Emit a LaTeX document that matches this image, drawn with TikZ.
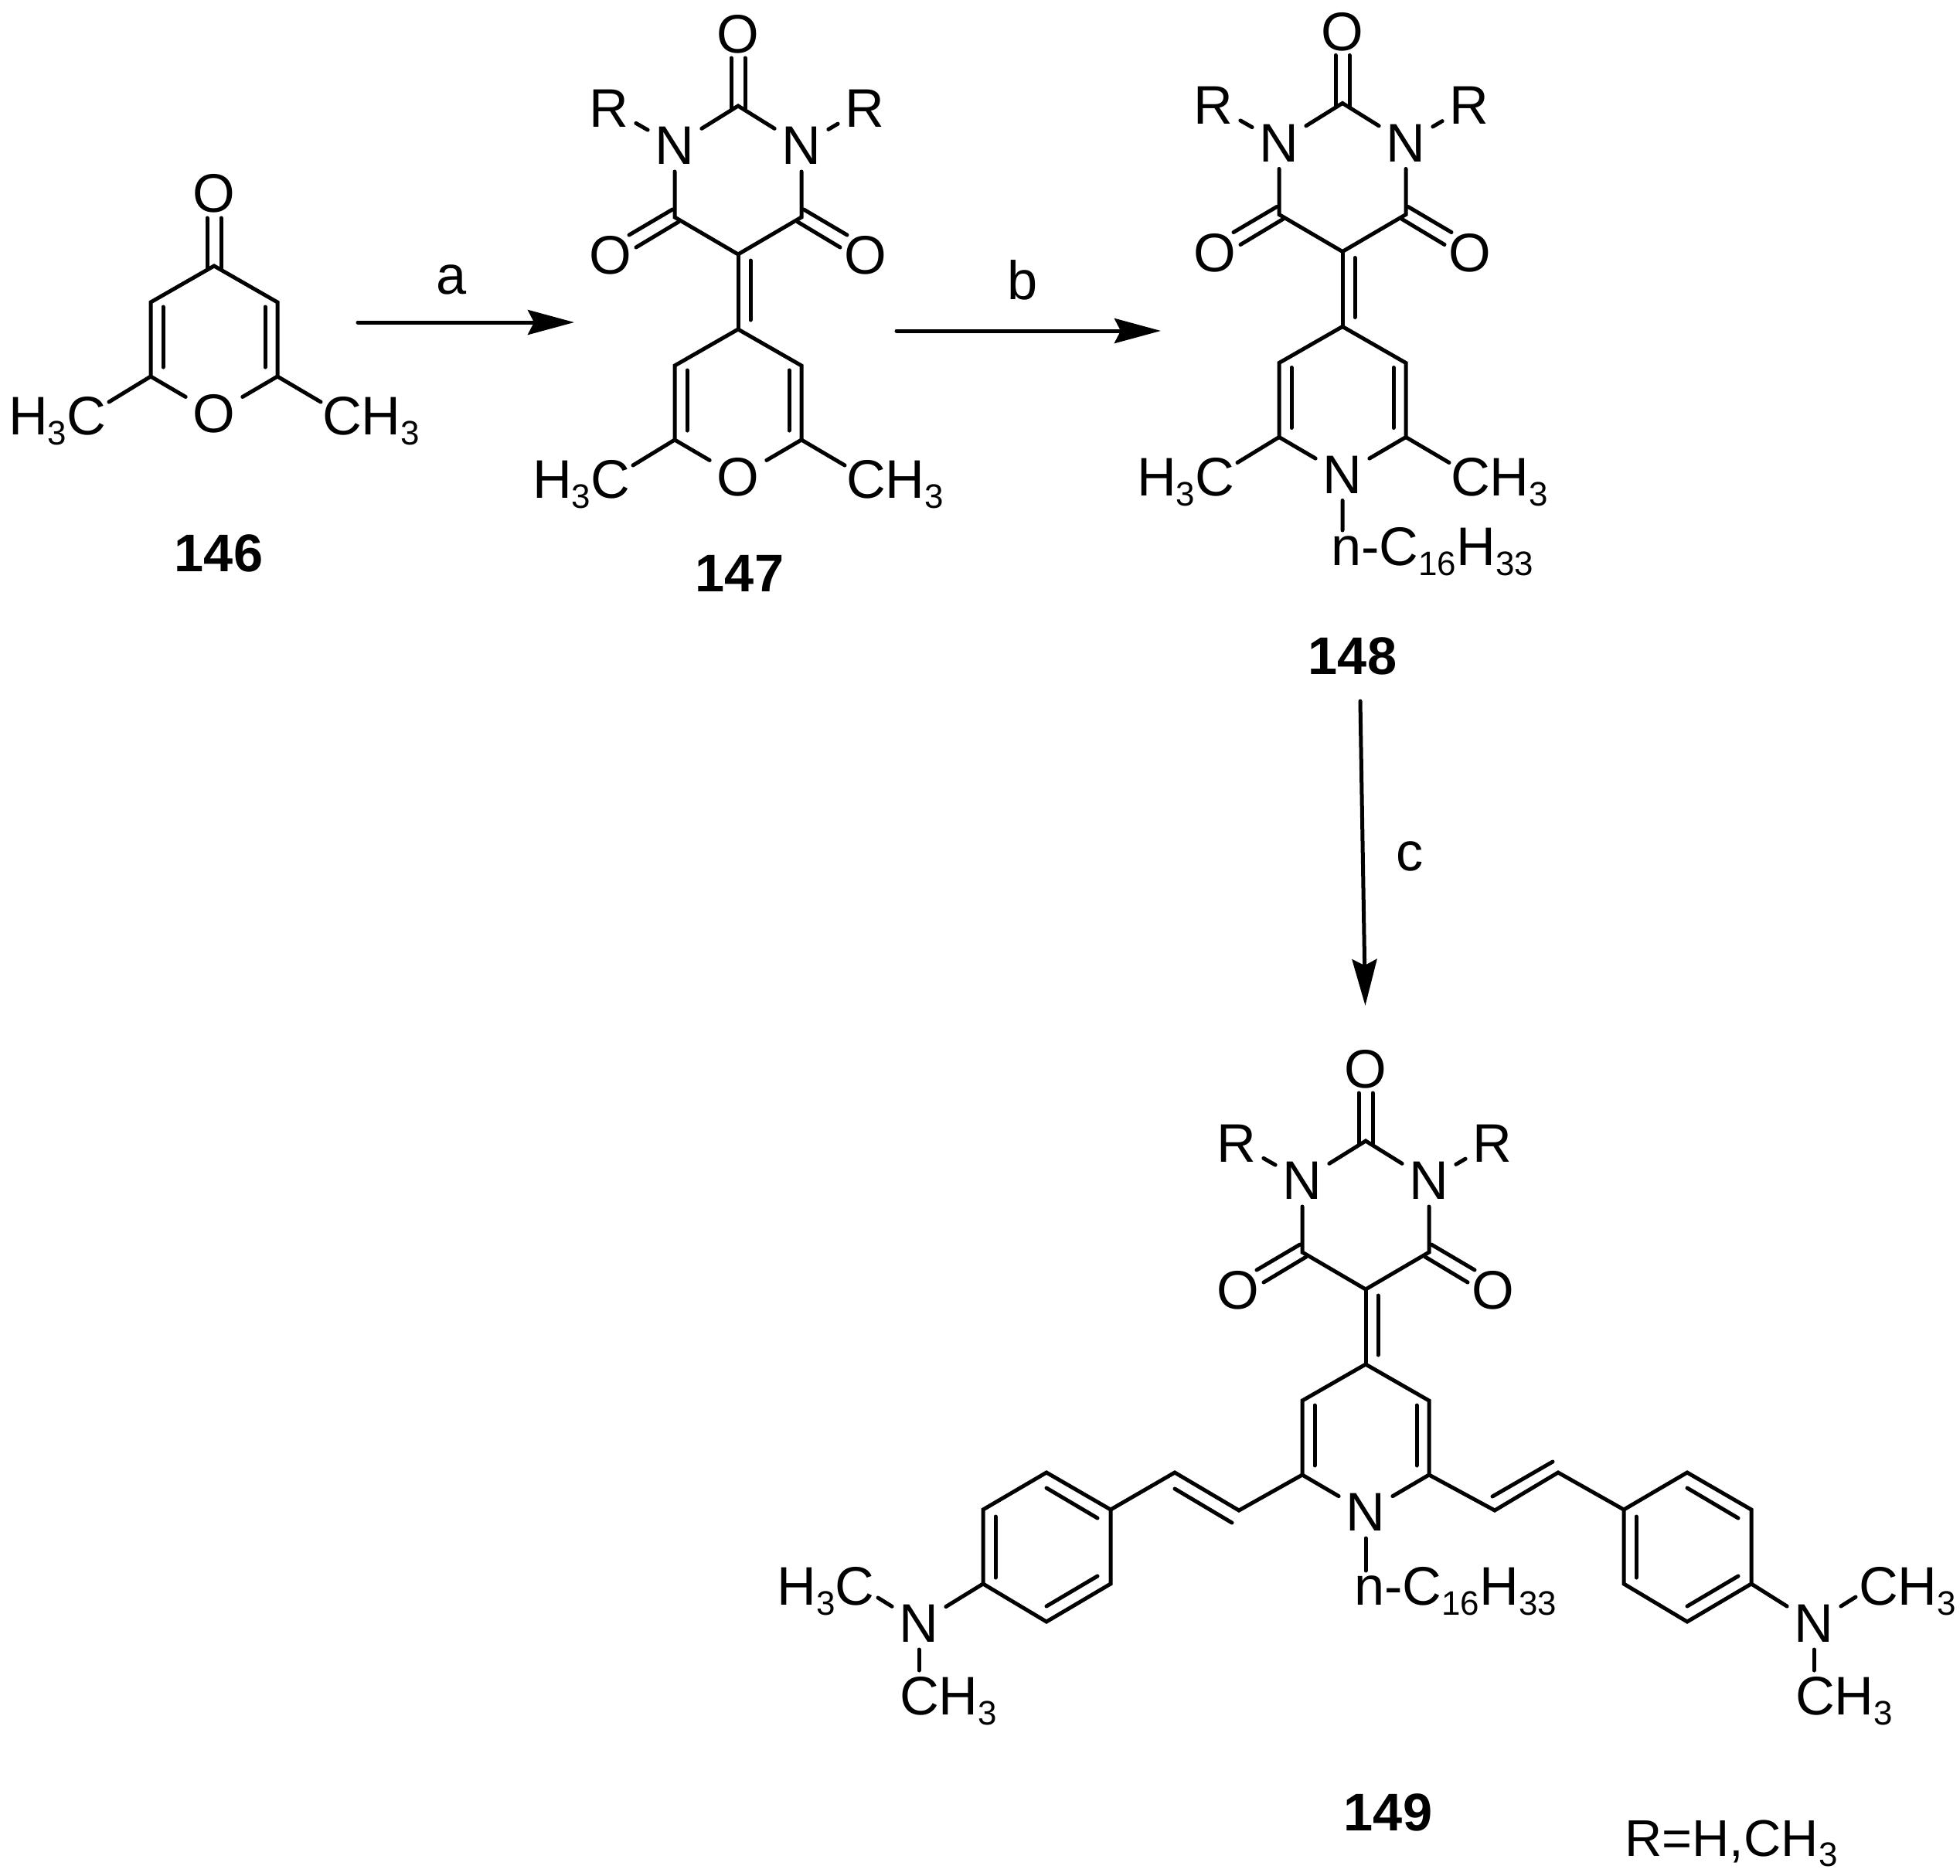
\documentclass[tikz,border=0pt]{standalone}
\usepackage{fontspec}
\setmainfont{Liberation Sans}
\usetikzlibrary{arrows.meta}
\newcommand{\dn}[1]{\raisebox{-.19em}{\fontsize{12.5}{14}\selectfont #1}}
\tikzset{
  atom/.style={inner sep=.07cm,text height=.49cm,text depth=0pt},
  cmpd/.style={font=\fontsize{19.5}{20}\selectfont\bfseries}
}
\begin{document}
\begin{tikzpicture}[x=1cm,y=-1cm,line width=.05cm,line cap=round,
  every node/.style={font=\fontsize{20}{22}\selectfont},
  >={Stealth[length=.6cm,width=.32cm,inset=.08cm]}]
\useasboundingbox (0,0) rectangle (25.36,24.27);
\foreach \m/\dx/\dy/\het in {k/-6.78/-.82/O,a/0/0/O,b/7.82/-.035/N,c/8.12/13.39/N}
{
\begin{scope}[shift={(\dx,\dy)}]
  \coordinate (\m c4) at (9.55,4.26);
  \coordinate (\m c3l) at (8.73,4.73);
  \coordinate (\m c2l) at (8.73,5.69);
  \coordinate (\m c2r) at (10.37,5.69);
  \coordinate (\m c3r) at (10.37,4.73);
  \node[atom] (\m het) at (9.55,6.17) {\het};
  \draw (\m het)--(\m c2l)--(\m c3l)--(\m c4)--(\m c3r)--(\m c2r)--(\m het);
  \draw (8.89,4.79)--(8.89,5.57);
  \draw (10.21,4.79)--(10.21,5.57);
\end{scope}
}
\foreach \m/\dx/\dy in {k/-6.78/-.82,a/0/0,b/7.82/-.035}
{
\begin{scope}[shift={(\dx,\dy)}]
  \node[atom] (\m me1) at (7.52,6.20) {H\dn{3}C};
  \node[atom] (\m me2) at (11.58,6.20) {CH\dn{3}};
  \coordinate (\m e1) at (8.19,6.02);
  \coordinate (\m e2) at (10.93,6.02);
  \draw (\m c2l)--(\m e1);
  \draw (\m c2r)--(\m e2);
\end{scope}
}
\foreach \m/\dx/\dy in {a/0/0,b/7.82/-.035,c/8.12/13.39}
{
\begin{scope}[shift={(\dx,\dy)}]
  \coordinate (\m c2) at (9.55,1.37);
  \coordinate (\m c6) at (8.73,2.81);
  \coordinate (\m c8) at (10.37,2.81);
  \coordinate (\m c5) at (9.55,3.29);
  \node[atom] (\m n1) at (8.73,1.88) {N};
  \node[atom] (\m n3) at (10.37,1.88) {N};
  \node[atom] (\m r1) at (7.88,1.395) {R};
  \node[atom] (\m r3) at (11.19,1.395) {R};
  \node[atom] (\m o2) at (9.55,.44) {O};
  \node[atom] (\m o4) at (7.90,3.30) {O};
  \node[atom] (\m o6) at (11.20,3.30) {O};
  \draw (\m r1)--(\m n1)--(\m c2)--(\m n3)--(\m r3);
  \draw (\m n1)--(\m c6)--(\m c5)--(\m c8)--(\m n3);
  \draw (\m c5)--(\m c4);
  \draw (9.71,3.37)--(9.71,4.14);
  \draw (9.46,.75)--(9.46,1.41);
  \draw (9.64,.75)--(9.64,1.41);
  \draw (8.70,2.71)--(8.14,3.04);
  \draw (8.78,2.87)--(8.23,3.20);
  \draw (10.40,2.71)--(10.96,3.04);
  \draw (10.32,2.87)--(10.87,3.20);
\end{scope}
}
% 146
\node[atom] (ko) at (2.77,2.50) {O};
\draw (2.68,2.82)--(2.68,3.47);
\draw (2.86,2.82)--(2.86,3.47);
\node[cmpd] (l146) at (2.83,7.16) {146};
\node[cmpd] (l147) at (9.57,7.42) {147};
\node[cmpd] (l148) at (17.50,8.49) {148};
\node[cmpd] (l149) at (17.96,23.45) {149};
% n-hexadecyl
\node[atom] (bchain) at (18.53,7.07) {n-C\dn{16}H\dn{33}};
\coordinate (bend) at (17.37,6.86);
\draw (bhet)--(bend);
\node[atom] (cchain) at (18.83,20.52) {n-C\dn{16}H\dn{33}};
\coordinate (cend) at (17.67,20.32);
\draw (chet)--(cend);
% styryl arms
\coordinate (vl1) at (16.03,19.54);
\coordinate (vl2) at (15.20,19.05);
\coordinate (vr1) at (19.34,19.54);
\coordinate (vr2) at (20.16,19.05);
\foreach \p/\dx in {l/0,r/8.29}
{
\begin{scope}[shift={(\dx,0)}]
  \coordinate (\p1) at (14.37,19.53);
  \coordinate (\p2) at (13.54,19.05);
  \coordinate (\p3) at (12.72,19.53);
  \coordinate (\p4) at (12.72,20.49);
  \coordinate (\p5) at (13.54,20.98);
  \coordinate (\p6) at (14.37,20.49);
  \draw (\p1)--(\p2)--(\p3)--(\p4)--(\p5)--(\p6)--cycle;
  \draw (12.88,19.62)--(12.88,20.41);
  \draw (13.54,19.25)--(14.20,19.64);
  \draw (13.54,20.78)--(14.20,20.39);
\end{scope}
}
\draw (cc2l)--(vl1)--(vl2)--(l1);
\draw (15.94,19.70)--(15.20,19.26);
\draw (cc2r)--(vr1)--(vr2)--(r3);
\draw (19.31,19.36)--(20.09,18.91);
% dimethylamino
\node[atom] (nl) at (11.89,21.00) {N};
\node[atom] (mel1) at (10.685,20.52) {H\dn{3}C};
\node[atom] (mel2) at (12.27,21.94) {CH\dn{3}};
\coordinate (el1) at (11.36,20.67);
\coordinate (el2) at (11.89,21.61);
\draw (l4)--(nl);
\draw (nl)--(el1);
\draw (nl)--(el2);
\node[atom] (nr) at (23.47,21.00) {N};
\node[atom] (mer1) at (24.68,20.52) {CH\dn{3}};
\node[atom] (mer2) at (23.86,21.94) {CH\dn{3}};
\coordinate (er1) at (24.01,20.66);
\coordinate (er2) at (23.47,21.61);
\draw (r6)--(nr);
\draw (nr)--(er1);
\draw (nr)--(er2);
\node[atom,font=\fontsize{19}{20}\selectfont] (rdef) at (22.40,23.77) {R=H,CH\dn{3}};
% reaction arrows
\coordinate (a1) at (4.63,4.17);
\coordinate (a2) at (7.43,4.17);
\coordinate (b1) at (11.60,4.28);
\coordinate (b2) at (15.02,4.28);
\coordinate (c1) at (17.60,9.07);
\coordinate (c2) at (17.665,13.01);
\draw[->] (a1)--(a2);
\draw[->] (b1)--(b2);
\draw[->] (c1)--(c2);
\node (la) at (5.84,3.62) {a};
\node (lb) at (13.23,3.62) {b};
\node (lc) at (18.24,11.08) {c};
\end{tikzpicture}
\end{document}
